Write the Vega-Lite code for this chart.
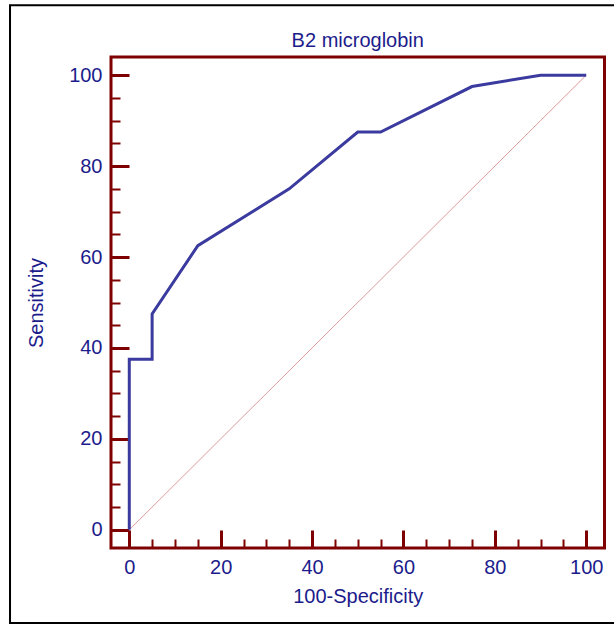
{
  "$schema": "https://vega.github.io/schema/vega-lite/v6.json",
  "autosize": {"type": "none"},
  "padding": {"left": 111, "top": 57, "right": 9.5, "bottom": 77},
  "width": 493.5,
  "height": 491,
  "background": "white",
  "title": {"text": "B2 microglobin", "font": "Liberation Sans", "fontSize": 20, "fontWeight": "normal", "color": "#1c1c8c", "offset": -47, "anchor": "middle"},
  "config": {
    "view": {"stroke": "#7f0000", "strokeWidth": 3},
    "font": "Liberation Sans",
    "axis": {
      "domain": false, "grid": false, "tickColor": "#7f0000",
      "labelFont": "Liberation Sans", "labelFontSize": 20, "labelColor": "#1c1c8c",
      "labelFlush": false, "labelOverlap": false,
      "titleFont": "Liberation Sans", "titleFontSize": 20, "titleFontWeight": "normal", "titleColor": "#1c1c8c"
    }
  },
  "resolve": {"axis": {"x": "independent", "y": "independent"}},
  "layer": [
    {
      "data": {"values": [{"fpr": 0, "tpr": 0}, {"fpr": 100, "tpr": 100}]},
      "mark": {"type": "line", "stroke": "#e09a9a", "strokeWidth": 1},
      "encoding": {
        "x": {
          "field": "fpr", "type": "quantitative",
          "scale": {"domain": [-4, 104], "nice": false, "zero": false},
          "axis": {
            "orient": "bottom",
            "values": [5, 10, 15, 25, 30, 35, 45, 50, 55, 65, 70, 75, 85, 90, 95],
            "tickSize": -9, "tickWidth": 2, "labels": false, "title": null
          }
        },
        "y": {
          "field": "tpr", "type": "quantitative",
          "scale": {"domain": [-4, 104], "nice": false, "zero": false},
          "axis": {
            "orient": "left",
            "values": [5, 10, 15, 25, 30, 35, 45, 50, 55, 65, 70, 75, 85, 90, 95],
            "tickSize": -9, "tickWidth": 2, "labels": false, "title": null
          }
        }
      }
    },
    {
      "data": {"values": [
        {"i": 0, "fpr": 0, "tpr": 0},
        {"i": 1, "fpr": 0, "tpr": 37.5},
        {"i": 2, "fpr": 5, "tpr": 37.5},
        {"i": 3, "fpr": 5, "tpr": 47.5},
        {"i": 4, "fpr": 15, "tpr": 62.5},
        {"i": 5, "fpr": 35, "tpr": 75},
        {"i": 6, "fpr": 50, "tpr": 87.5},
        {"i": 7, "fpr": 55, "tpr": 87.5},
        {"i": 8, "fpr": 75, "tpr": 97.5},
        {"i": 9, "fpr": 90, "tpr": 100},
        {"i": 10, "fpr": 100, "tpr": 100}
      ]},
      "mark": {"type": "line", "stroke": "#3a3a9f", "strokeWidth": 3},
      "encoding": {
        "order": {"field": "i", "type": "quantitative"},
        "x": {
          "field": "fpr", "type": "quantitative",
          "axis": {
            "orient": "bottom",
            "values": [0, 20, 40, 60, 80, 100],
            "tickSize": -18, "tickWidth": 3,
            "labelPadding": 27,
            "title": "100-Specificity", "titlePadding": 9
          }
        },
        "y": {
          "field": "tpr", "type": "quantitative",
          "axis": {
            "orient": "left",
            "values": [0, 20, 40, 60, 80, 100],
            "tickSize": -18, "tickWidth": 3,
            "labelPadding": 27,
            "title": "Sensitivity", "titlePadding": 22
          }
        }
      }
    },
    {
      "data": {"values": [{}]},
      "mark": {"type": "rect", "filled": false, "stroke": "black", "strokeWidth": 2, "clip": false},
      "encoding": {
        "x": {"datum": -26.1, "type": "quantitative", "axis": null},
        "x2": {"datum": 107},
        "y": {"datum": -20.5, "type": "quantitative", "axis": null},
        "y2": {"datum": 115.4}
      }
    }
  ]
}
